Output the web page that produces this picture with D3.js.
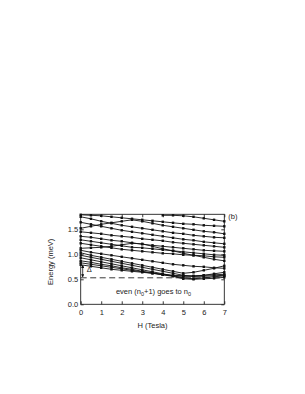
<!DOCTYPE html>
<html>
<head>
<meta charset="utf-8">
<script src="https://cdn.jsdelivr.net/npm/d3@7"></script>
<style>
  html, body { margin: 0; padding: 0; background: #fff; }
  svg { display: block; }
  text { font-family: "Liberation Sans", Arial, Helvetica, sans-serif; fill: #222; }
</style>
</head>
<body>
<div id="chart"></div>
<script>
// field values (Tesla) where levels were sampled
var fields = [0, 0.5, 1, 1.5, 2, 2.5, 3, 3.5, 4, 4.5, 5, 5.5, 6, 6.5, 7];

// energy levels (meV), one row per level, null = not computed
var levels = [
    [null, null, null, null, null, null, null, null, 1.78, 1.78, 1.77, 1.75, 1.72, 1.69, 1.66],
    [1.79, 1.78, 1.77, 1.75, 1.73, 1.71, 1.69, 1.67, 1.65, 1.63, 1.61, 1.60, 1.58, 1.57, 1.56],
    [1.52, 1.56, 1.60, 1.63, 1.66, 1.69, 1.66, 1.62, 1.58, 1.55, 1.52, 1.49, 1.46, 1.44, 1.41],
    [1.75, 1.71, 1.66, 1.62, 1.58, 1.55, 1.52, 1.49, 1.46, 1.43, 1.41, 1.38, 1.36, 1.34, 1.33],
    [1.64, 1.60, 1.56, 1.52, 1.48, 1.45, 1.42, 1.39, 1.36, 1.33, 1.30, 1.28, 1.25, 1.23, 1.21],
    [1.45, 1.43, 1.41, 1.38, 1.36, 1.34, 1.31, 1.29, 1.27, 1.24, 1.22, 1.20, 1.18, 1.16, 1.14],
    [1.36, 1.34, 1.31, 1.28, 1.26, 1.23, 1.20, 1.18, 1.16, 1.14, 1.12, 1.10, 1.08, 1.07, 1.06],
    [1.29, 1.26, 1.23, 1.20, 1.17, 1.14, 1.13, 1.11, 1.09, 1.07, 1.05, 1.03, 1.01, 0.99, 0.98],
    [1.12, 1.13, 1.14, 1.16, 1.19, 1.22, 1.21, 1.16, 1.11, 1.07, 1.02, 0.98, 0.94, 0.90, 0.87],
    [1.22, 1.19, 1.16, 1.13, 1.10, 1.08, 1.06, 1.04, 1.02, 1.01, 0.99, 0.98, 0.97, 0.95, 0.94],
    [1.08, 1.04, 1.01, 0.98, 0.95, 0.92, 0.89, 0.86, 0.83, 0.80, 0.78, 0.76, 0.75, 0.73, 0.72],
    [1.03, 0.98, 0.94, 0.90, 0.86, 0.82, 0.78, 0.74, 0.70, 0.66, 0.62, 0.64, 0.68, 0.72, 0.77],
    [0.98, 0.94, 0.90, 0.86, 0.82, 0.78, 0.74, 0.70, 0.66, 0.62, 0.58, 0.56, 0.58, 0.61, 0.64],
    [0.93, 0.89, 0.85, 0.81, 0.77, 0.73, 0.69, 0.65, 0.61, 0.57, 0.53, 0.51, 0.53, 0.55, 0.57],
    [0.87, 0.84, 0.80, 0.77, 0.73, 0.70, 0.66, 0.63, 0.59, 0.56, 0.51, 0.50, 0.51, 0.52, 0.54],
    [0.83, 0.80, 0.77, 0.74, 0.71, 0.68, 0.65, 0.62, 0.59, 0.57, 0.56, 0.57, 0.58, 0.59, 0.60],
    [0.79, 0.76, 0.73, 0.70, 0.68, 0.66, 0.64, 0.62, 0.60, 0.58, 0.57, 0.56, 0.56, 0.57, 0.58]
];

var xTicks = [0, 1, 2, 3, 4, 5, 6, 7];
var yTicks = [0, 0.5, 1.0, 1.5];
var gapEnergy = 0.53;   // dashed line
var gapTop = 0.80;      // top of the Delta arrow

(function () {
    var W = 305, H = 394;
    var mLeft = 80.7, mRight = 224.3, mTop = 214.3, mBottom = 304.3;
    var fs = '7.5px';

    var svg = d3.select('#chart').append('svg')
        .attr('width', W)
        .attr('height', H);

    var x = d3.scaleLinear().domain([0, 7]).range([mLeft, mRight]);
    var y = d3.scaleLinear().domain([0, 1.8]).range([mBottom, mTop]);

    // arrow heads
    var defs = svg.append('defs');
    defs.append('marker')
        .attr('id', 'ah')
        .attr('viewBox', '0 0 6 6')
        .attr('refX', 5).attr('refY', 3)
        .attr('markerWidth', 4).attr('markerHeight', 4)
        .attr('orient', 'auto-start-reverse')
        .append('path').attr('d', 'M0,0L6,3L0,6Z').attr('fill', '#111');

    // frame
    svg.append('rect')
        .attr('x', mLeft).attr('y', mTop)
        .attr('width', mRight - mLeft).attr('height', mBottom - mTop)
        .attr('fill', 'none').attr('stroke', '#222').attr('stroke-width', 0.9);

    // axes (inward ticks)
    var gx = svg.append('g').attr('transform', 'translate(0,' + mBottom + ')')
        .call(d3.axisBottom(x).tickValues(xTicks).tickSizeInner(-3).tickSizeOuter(0).tickPadding(5).tickFormat(d3.format('d')));
    var gxt = svg.append('g').attr('transform', 'translate(0,' + mTop + ')')
        .call(d3.axisTop(x).tickValues(xTicks).tickSizeInner(-3).tickSizeOuter(0).tickFormat(''));
    var gy = svg.append('g').attr('transform', 'translate(' + mLeft + ',0)')
        .call(d3.axisLeft(y).tickValues(yTicks).tickSizeInner(-3).tickSizeOuter(0).tickPadding(2.5).tickFormat(d3.format('.1f')));
    var gyr = svg.append('g').attr('transform', 'translate(' + mRight + ',0)')
        .call(d3.axisRight(y).tickValues(yTicks).tickSizeInner(-3).tickSizeOuter(0).tickFormat(''));

    [gx, gxt, gy, gyr].forEach(function (g) {
        g.select('.domain').remove();
        g.selectAll('line').attr('stroke', '#222').attr('stroke-width', 0.9);
        g.selectAll('text').style('font-size', fs).style('font-family', '"Liberation Sans", Arial, sans-serif').attr('fill', '#222');
    });

    // dashed gap line
    svg.append('line')
        .attr('x1', x(0)).attr('x2', x(7))
        .attr('y1', y(gapEnergy)).attr('y2', y(gapEnergy))
        .attr('stroke', '#222').attr('stroke-width', 0.9)
        .attr('stroke-dasharray', '6,3.5');

    // levels
    var line = d3.line()
        .defined(function (d) { return d[1] !== null; })
        .x(function (d) { return x(d[0]); })
        .y(function (d) { return y(d[1]); });

    levels.forEach(function (lv) {
        var pts = fields.map(function (f, i) { return [f, lv[i]]; });
        svg.append('path')
            .datum(pts)
            .attr('d', line)
            .attr('fill', 'none')
            .attr('stroke', '#111')
            .attr('stroke-width', 0.9);
        svg.append('g').selectAll('rect')
            .data(pts.filter(function (d) { return d[1] !== null; }))
            .enter().append('rect')
            .attr('x', function (d) { return x(d[0]) - 1.2; })
            .attr('y', function (d) { return y(d[1]) - 1.2; })
            .attr('width', 2.4).attr('height', 2.4)
            .attr('fill', '#111');
    });

    // Delta arrow
    svg.append('line')
        .attr('x1', x(0) + 2).attr('x2', x(0) + 2)
        .attr('y1', y(gapEnergy) - 1).attr('y2', y(gapTop) + 1)
        .attr('stroke', '#111').attr('stroke-width', 0.8)
        .attr('marker-start', 'url(#ah)')
        .attr('marker-end', 'url(#ah)');
    svg.append('text')
        .attr('x', x(0) + 6).attr('y', y(0.64))
        .style('font-size', fs)
        .text('Δ');

    // annotation
    var ann = svg.append('text')
        .attr('x', x(3.55)).attr('y', y(0.2))
        .attr('text-anchor', 'middle')
        .style('font-size', fs);
    ann.append('tspan').text('even (n');
    ann.append('tspan').attr('dy', 1.5).style('font-size', '5.5px').text('0');
    ann.append('tspan').attr('dy', -1.5).text('+1) goes to n');
    ann.append('tspan').attr('dy', 1.5).style('font-size', '5.5px').text('0');

    svg.append('text')
        .attr('x', mRight + 4).attr('y', y(1.7))
        .style('font-size', fs)
        .text('(b)');

    // axis titles
    svg.append('text')
        .attr('x', (mLeft + mRight) / 2).attr('y', 327.5)
        .attr('text-anchor', 'middle')
        .style('font-size', fs)
        .text('H (Tesla)');

    svg.append('text')
        .attr('transform', 'translate(52.5,' + y(0.85) + ') rotate(-90)')
        .attr('text-anchor', 'middle')
        .style('font-size', fs)
        .text('Energy (meV)');
})();
</script>
</body>
</html>
